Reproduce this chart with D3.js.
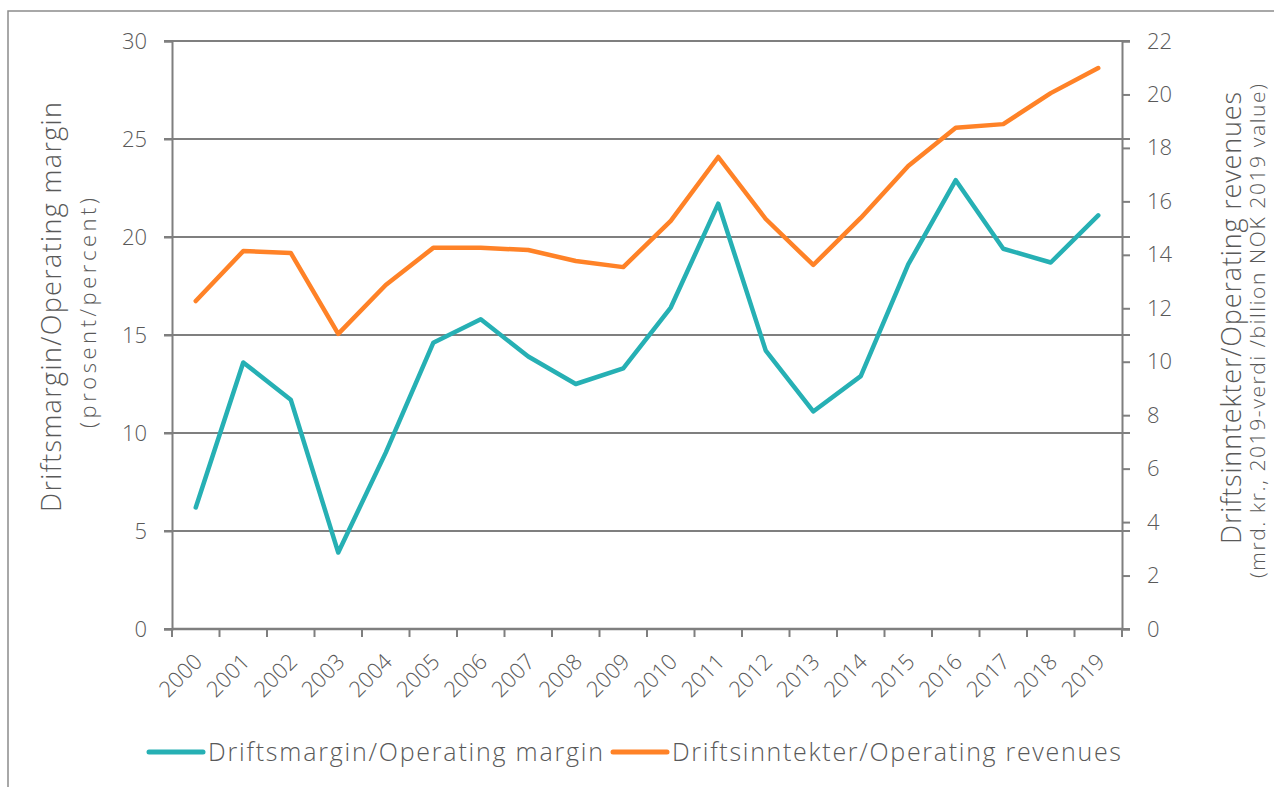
<!DOCTYPE html>
<html>
<head>
<meta charset="utf-8">
<script src="https://cdn.jsdelivr.net/npm/d3@7"></script>
<style>
  body { margin: 0; background: #fff; }
  svg { display: block; font-family: "Open Sans", Roboto, sans-serif; font-weight: 300; }
</style>
</head>
<body>
<div id="chart"></div>
<script>
const years = d3.range(2000, 2020).map(String)
const margin = [6.2, 13.6, 11.7, 3.9, 9.0, 14.6, 15.8, 13.9, 12.5, 13.3, 16.4, 21.7, 14.2, 11.1, 12.9, 18.6, 22.9, 19.4, 18.7, 21.1]
const revenues = [12.27, 14.14, 14.07, 11.04, 12.87, 14.26, 14.26, 14.18, 13.77, 13.54, 15.27, 17.66, 15.34, 13.62, 15.38, 17.32, 18.75, 18.89, 20.05, 20.99]
const leftTicks = [0, 5, 10, 15, 20, 25, 30]
const rightTicks = d3.range(0, 23, 2)

const W = 1274, H = 787
const M = { TOP: 41, BOTTOM: 158, LEFT: 172, RIGHT: 152 }
const WIDTH = W - M.LEFT - M.RIGHT
const HEIGHT = H - M.TOP - M.BOTTOM
const GREY = "#7f7f7f"
const TXT = "#595959"
const TEAL = "#26b0b4"
const ORANGE = "#ff8227"

const svg = d3.select("#chart").append("svg")
    .attr("width", W)
    .attr("height", H)

// frame
svg.append("rect")
    .attr("x", 8).attr("y", 11)
    .attr("width", W + 10).attr("height", H + 10)
    .attr("fill", "none")
    .attr("stroke", "#8c8c8c")
    .attr("stroke-width", 1.5)

const g = svg.append("g")
    .attr("transform", `translate(${M.LEFT}, ${M.TOP})`)

const x = d3.scaleBand().domain(years).range([0, WIDTH])
const yL = d3.scaleLinear().domain([0, 30]).range([HEIGHT, 0])
const yR = d3.scaleLinear().domain([0, 22]).range([HEIGHT, 0])

// gridlines
g.append("g").selectAll("line")
    .data(leftTicks)
    .join("line")
    .attr("x1", -8).attr("x2", WIDTH + 8)
    .attr("y1", d => yL(d)).attr("y2", d => yL(d))
    .attr("stroke", GREY).attr("stroke-width", 2)

// left axis
const leftAxis = g.append("g")
    .call(d3.axisLeft(yL).tickValues(leftTicks).tickSize(8).tickPadding(17))
leftAxis.select(".domain").attr("stroke", GREY).attr("stroke-width", 2)
leftAxis.selectAll(".tick line").attr("stroke", GREY).attr("stroke-width", 2)
leftAxis.selectAll("text").attr("fill", TXT).style("font-size", "22px")
    .style("font-family", "Open Sans").style("font-weight", 300)

// right axis
const rightAxis = g.append("g")
    .attr("transform", `translate(${WIDTH}, 0)`)
    .call(d3.axisRight(yR).tickValues(rightTicks).tickSize(8).tickPadding(17))
rightAxis.select(".domain").attr("stroke", GREY).attr("stroke-width", 2)
rightAxis.selectAll(".tick line").attr("stroke", GREY).attr("stroke-width", 2)
rightAxis.selectAll("text").attr("fill", TXT).style("font-size", "22px")
    .style("font-family", "Open Sans").style("font-weight", 300)

// x axis (ticks at band edges)
const xAxis = g.append("g")
    .attr("transform", `translate(0, ${HEIGHT})`)
xAxis.append("line")
    .attr("x1", 0).attr("x2", WIDTH)
    .attr("stroke", GREY).attr("stroke-width", 2.5)
xAxis.selectAll(".edge")
    .data(years.concat(["end"]))
    .join("line")
    .attr("class", "edge")
    .attr("x1", (d, i) => i * x.step()).attr("x2", (d, i) => i * x.step())
    .attr("y1", 0).attr("y2", 8)
    .attr("stroke", GREY).attr("stroke-width", 2)
xAxis.selectAll(".lbl")
    .data(years)
    .join("text")
    .attr("class", "lbl")
    .attr("text-anchor", "end")
    .attr("transform", d => `translate(${x(d) + x.bandwidth() / 2 + 8}, 34) rotate(-45)`)
    .attr("fill", TXT)
    .style("font-size", "22px")
    .text(d => d)

// lines
const lineL = d3.line().x((d, i) => x(years[i]) + x.bandwidth() / 2).y(d => yL(d))
const lineR = d3.line().x((d, i) => x(years[i]) + x.bandwidth() / 2).y(d => yR(d))

g.append("path")
    .datum(revenues)
    .attr("d", lineR)
    .attr("fill", "none").attr("stroke", ORANGE)
    .attr("stroke-width", 4.5).attr("stroke-linecap", "round").attr("stroke-linejoin", "round")

g.append("path")
    .datum(margin)
    .attr("d", lineL)
    .attr("fill", "none").attr("stroke", TEAL)
    .attr("stroke-width", 4.5).attr("stroke-linecap", "round").attr("stroke-linejoin", "round")

// axis titles (rotated); len = width the text takes in the original
const titles = [
  { text: "Driftsmargin/Operating margin", x: 61, y: 307, size: 27, len: 410 },
  { text: "(prosent/percent)", x: 96, y: 313, size: 22, len: 230 },
  { text: "Driftsinntekter/Operating revenues", x: 1241, y: 318, size: 27, len: 452 },
  { text: "(mrd. kr., 2019-verdi /billion NOK 2019 value)", x: 1265, y: 331, size: 21, len: 494 }
]
svg.selectAll(".title")
    .data(titles)
    .join("text")
    .attr("class", "title")
    .attr("transform", d => `translate(${d.x}, ${d.y}) rotate(-90)`)
    .attr("text-anchor", "middle")
    .attr("fill", TXT)
    .style("font-size", d => d.size + "px")
    .attr("textLength", d => d.len)
    .attr("lengthAdjust", "spacing")
    .text(d => d.text)

// legend
const legendItems = [
  { name: "Driftsmargin/Operating margin", color: TEAL, x: 149, len: 395 },
  { name: "Driftsinntekter/Operating revenues", color: ORANGE, x: 613, len: 449 }
]
const leg = svg.append("g").attr("transform", "translate(0, 752)")
leg.selectAll("line")
    .data(legendItems)
    .join("line")
    .attr("x1", d => d.x).attr("x2", d => d.x + 54)
    .attr("stroke", d => d.color).attr("stroke-width", 5).attr("stroke-linecap", "round")
leg.selectAll("text")
    .data(legendItems)
    .join("text")
    .attr("x", d => d.x + 59)
    .attr("y", 9)
    .attr("fill", TXT)
    .style("font-size", "25px")
    .attr("textLength", d => d.len)
    .attr("lengthAdjust", "spacing")
    .text(d => d.name)
</script>
</body>
</html>
